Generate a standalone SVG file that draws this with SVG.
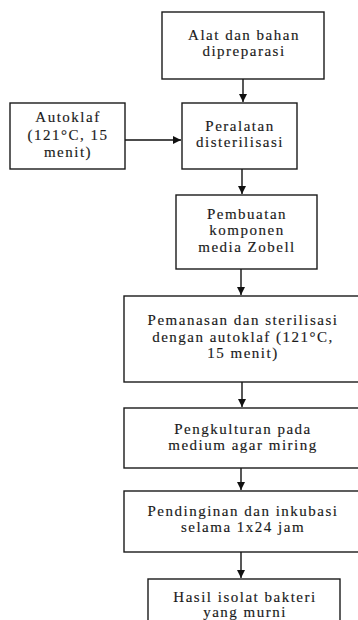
<svg xmlns="http://www.w3.org/2000/svg" width="358" height="620" viewBox="0 0 358 620">
<style>
rect{fill:#fff;stroke:#1a1a1a;stroke-width:1.4}
text{font-family:"Liberation Serif","Times New Roman",serif;font-size:15px;fill:#1a1a1a;text-anchor:middle;letter-spacing:1.5px;stroke:#1a1a1a;stroke-width:0.15}
.c{stroke:#111;stroke-width:1.4;fill:none}
</style>
<defs>
<marker id="ah" markerWidth="10" markerHeight="10" refX="8" refY="4.5" orient="auto" markerUnits="userSpaceOnUse">
<path d="M0,0.5 L8,4.5 L0,8.5 Z" fill="#111"/>
</marker>
</defs>
<rect x="0" y="0" width="358" height="620" style="fill:#fff;stroke:none"/>
<g id="connectors">
<line class="c" x1="243" y1="79" x2="243" y2="102" marker-end="url(#ah)"/>
<line class="c" x1="125" y1="140" x2="181" y2="140" marker-end="url(#ah)"/>
<line class="c" x1="242" y1="169" x2="242" y2="194" marker-end="url(#ah)"/>
<line class="c" x1="241" y1="269" x2="241" y2="295" marker-end="url(#ah)"/>
<line class="c" x1="242" y1="382" x2="242" y2="407" marker-end="url(#ah)"/>
<line class="c" x1="241" y1="468" x2="241" y2="490" marker-end="url(#ah)"/>
<line class="c" x1="241" y1="552" x2="241" y2="578" marker-end="url(#ah)"/>
</g>
<g id="n1">
<rect x="162" y="12" width="162" height="67"/>
<text x="244" y="40">Alat dan bahan</text>
<text x="244" y="56">dipreparasi</text>
</g>
<g id="n2">
<rect x="10" y="103" width="115" height="66"/>
<text x="68" y="122">Autoklaf</text>
<text x="68" y="140">(121°C, 15</text>
<text x="68" y="157">menit)</text>
</g>
<g id="n3">
<rect x="182" y="103" width="115" height="66"/>
<text x="240" y="131">Peralatan</text>
<text x="240" y="147">disterilisasi</text>
</g>
<g id="n4">
<rect x="176" y="195" width="141" height="74"/>
<text x="247" y="219">Pembuatan</text>
<text x="247" y="235">komponen</text>
<text x="247" y="252">media Zobell</text>
</g>
<g id="n5">
<rect x="124" y="296" width="236" height="86"/>
<text x="243" y="325">Pemanasan dan sterilisasi</text>
<text x="243" y="342">dengan autoklaf (121°C,</text>
<text x="243" y="358">15 menit)</text>
</g>
<g id="n6">
<rect x="124" y="408" width="236" height="60"/>
<text x="243" y="434">Pengkulturan pada</text>
<text x="243" y="450">medium agar miring</text>
</g>
<g id="n7">
<rect x="124" y="491" width="236" height="61"/>
<text x="243" y="516">Pendinginan dan inkubasi</text>
<text x="243" y="532">selama 1x24 jam</text>
</g>
<g id="n8">
<rect x="148" y="579" width="192" height="60"/>
<text x="245" y="602">Hasil isolat bakteri</text>
<text x="245" y="617">yang murni</text>
</g>
</svg>
